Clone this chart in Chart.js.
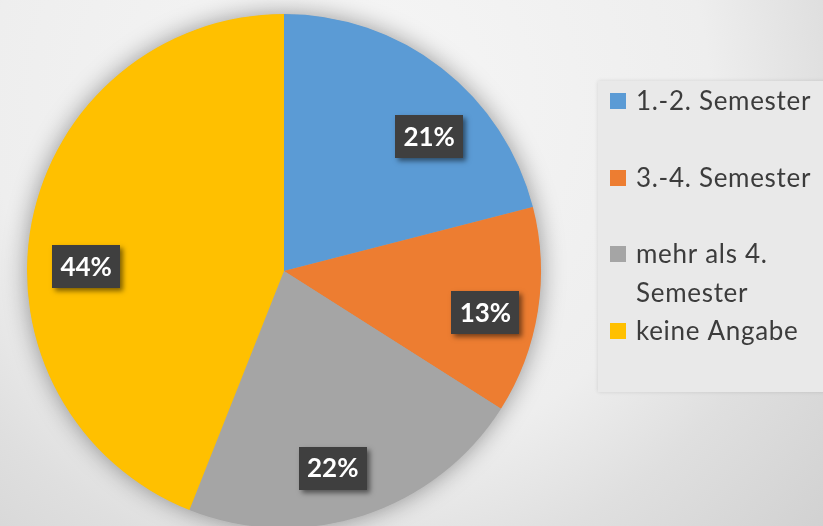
<!DOCTYPE html>
<html>
<head>
<meta charset="utf-8">
<script src="https://cdn.jsdelivr.net/npm/chart.js@4"></script>
<style>
  html, body { margin: 0; padding: 0; }
  body {
    width: 823px; height: 526px; overflow: hidden;
    background: radial-gradient(circle 640px at 350px 100px, #f6f6f6 0px, #eeeeee 360px, #dfdfdf 480px, #d1d1d1 640px);
  }
  #wrap { position: relative; width: 823px; height: 526px; overflow: hidden; }
  canvas { position: absolute; left: 0; top: 0; }
</style>
</head>
<body>
<div id="wrap"><canvas id="c" width="823" height="540"></canvas></div>
<script>
// ---- data ----
const categories = ['1.-2. Semester', '3.-4. Semester', 'mehr als 4. Semester', 'keine Angabe'];
const shares = [21, 13, 22, 44];
const sliceColors = ['#5B9BD5', '#ED7D31', '#A5A5A5', '#FFC000'];

// ---- label placement style (fraction of radius, angle tweak in degrees) ----
const labelRadiusFraction = [0.77, 0.80, 0.79, 0.77];
const labelAngleShift = [9.4, 2.6, 4.1, -9.5];

const pieShadow = {
  id: 'pieShadow',
  beforeDatasetsDraw(chart) {
    const arc = chart.getDatasetMeta(0).data[0];
    if (!arc) return;
    const ctx = chart.ctx;
    ctx.save();
    ctx.shadowColor = 'rgba(0,0,0,0.4)';
    ctx.shadowBlur = 24;
    ctx.fillStyle = '#A5A5A5';
    ctx.beginPath();
    ctx.arc(arc.x, arc.y, arc.outerRadius - 0.5, 0, Math.PI * 2);
    ctx.fill();
    ctx.restore();
  }
};

const boxLabels = {
  id: 'boxLabels',
  afterDatasetsDraw(chart) {
    const ctx = chart.ctx;
    const meta = chart.getDatasetMeta(0);
    const ds = chart.data.datasets[0];
    const total = ds.data.reduce((a, b) => a + b, 0);
    ctx.save();
    ctx.font = 'bold 26px Lato';
    ctx.textAlign = 'center';
    ctx.textBaseline = 'middle';
    meta.data.forEach((arc, i) => {
      const mid = (arc.startAngle + arc.endAngle) / 2 + labelAngleShift[i] * Math.PI / 180;
      const r = arc.outerRadius * labelRadiusFraction[i];
      const x = arc.x + Math.cos(mid) * r;
      const y = arc.y + Math.sin(mid) * r;
      const txt = Math.round(ds.data[i] / total * 100) + '%';
      const w = 68, h = 43;
      ctx.save();
      ctx.shadowColor = 'rgba(0,0,0,0.5)';
      ctx.shadowBlur = 5;
      ctx.shadowOffsetX = 3;
      ctx.shadowOffsetY = 3;
      ctx.fillStyle = '#3f3f3f';
      ctx.fillRect(Math.round(x - w / 2), Math.round(y - h / 2), w, h);
      ctx.restore();
      ctx.fillStyle = '#ffffff';
      ctx.fillText(txt, x, y + 1);
    });
    ctx.restore();
  }
};

const sideLegend = {
  id: 'sideLegend',
  afterDraw(chart) {
    const ctx = chart.ctx;
    const ds = chart.data.datasets[0];
    const boxL = 598, boxT = 81, boxB = 392;
    ctx.save();
    ctx.shadowColor = 'rgba(0,0,0,0.12)';
    ctx.shadowBlur = 4;
    ctx.fillStyle = '#e9e9e9';
    ctx.fillRect(boxL, boxT, 823 - boxL + 10, boxB - boxT);
    ctx.restore();

    ctx.save();
    ctx.font = '26px Lato';
    ctx.letterSpacing = '0.7px';
    ctx.textBaseline = 'middle';
    ctx.textAlign = 'left';
    const textX = 636, markX = 610, mark = 16;
    const firstY = 101, step = 76.5, lineH = 39, maxW = 185;
    chart.data.labels.forEach((lab, i) => {
      const y = firstY + step * i;
      const words = lab.split(' ');
      const lines = [];
      let cur = '';
      words.forEach(wd => {
        const t = cur ? cur + ' ' + wd : wd;
        if (ctx.measureText(t).width > maxW && cur) { lines.push(cur); cur = wd; }
        else cur = t;
      });
      lines.push(cur);
      ctx.fillStyle = ds.backgroundColor[i];
      ctx.fillRect(markX, Math.round(y - mark / 2), mark, mark);
      ctx.fillStyle = '#3c3c3c';
      lines.forEach((ln, k) => ctx.fillText(ln, textX, y + 1 + k * lineH));
    });
    ctx.restore();
  }
};

new Chart(document.getElementById('c'), {
  type: 'pie',
  data: {
    labels: categories,
    datasets: [{
      data: shares,
      backgroundColor: sliceColors,
      borderWidth: 0,
      hoverOffset: 0
    }]
  },
  options: {
    responsive: false,
    animation: false,
    devicePixelRatio: 1,
    layout: { padding: { left: 27, top: 14, right: 282, bottom: 12 } },
    plugins: {
      legend: { display: false },
      tooltip: { enabled: false }
    }
  },
  plugins: [pieShadow, boxLabels, sideLegend]
});
</script>
</body>
</html>
